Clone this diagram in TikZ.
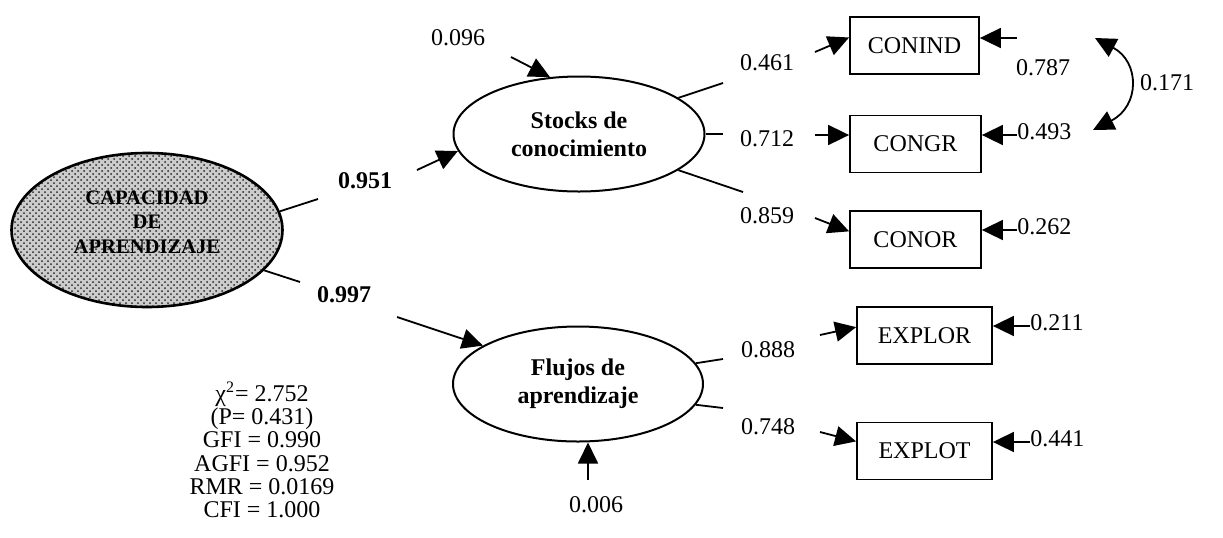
\documentclass[tikz,border=0pt]{standalone}
\usepackage{fontspec}
\setmainfont{Liberation Serif}
\usetikzlibrary{shapes.geometric,arrows.meta,patterns}
\begin{document}
\begin{tikzpicture}[x=0.5pt,y=-0.5pt,
  lbl/.style={inner sep=0pt, font=\fontsize{12}{14}\selectfont},
  blbl/.style={inner sep=0pt, font=\fontsize{12}{14}\selectfont\bfseries},
  seg/.style={line width=0.9pt},
  arr/.style={line width=0.9pt, -{Triangle[length=10.5pt,width=10pt]}},
  dbl/.style={line width=0.9pt, {Triangle[length=10.5pt,width=10pt]}-{Triangle[length=10.5pt,width=10pt]}},
  latent/.style={ellipse, draw, line width=1pt, inner sep=0pt, align=center, font=\fontsize{12}{14}\selectfont\bfseries},
  obs/.style={rectangle, draw, line width=0.9pt, inner sep=0pt, minimum height=28.5pt, font=\fontsize{12}{14}\selectfont},
  captext/.style={inner sep=0pt, align=center, font=\fontsize{10.3}{12.3}\selectfont\bfseries}
]
\useasboundingbox (0,0) rectangle (1223,537);

% latent variables
\node[latent, minimum width=135.5pt, minimum height=77pt, line width=1.3pt,
      preaction={fill=gray!40}, pattern=crosshatch dots, pattern color=black!85] (cap) at (147,230) {};
\node[captext] (captxt) at (147,222) {CAPACIDAD\\DE\\APRENDIZAJE};
\node[latent, minimum width=125.5pt, minimum height=57.5pt] (stocks) at (579,134) {Stocks de\\conocimiento};
\node[latent, minimum width=125pt, minimum height=57.5pt] (flujos) at (578,384) {Flujos de\\aprendizaje};

% observed variables
\node[obs, minimum width=64.5pt] (conind) at (914.5,45.5) {CONIND};
\node[obs, minimum width=65.5pt] (congr) at (915.5,144) {CONGR};
\node[obs, minimum width=65.5pt] (conor) at (915.5,239.5) {CONOR};
\node[obs, minimum width=67.5pt] (explor) at (924.5,335.5) {EXPLOR};
\node[obs, minimum width=67.5pt] (explot) at (924.5,451) {EXPLOT};

% free ends
\coordinate (r1) at (511,57);
\coordinate (a1) at (318,199);  \coordinate (a2) at (417,170);
\coordinate (b1) at (300,282);  \coordinate (b2) at (397,317);
\coordinate (s1a) at (723,83);  \coordinate (s1b) at (815,52);
\coordinate (s2a) at (723,134); \coordinate (s2b) at (815,135);
\coordinate (s3a) at (743,192); \coordinate (s3b) at (815,218);
\coordinate (f1a) at (723,359); \coordinate (f1b) at (820,335);
\coordinate (f2a) at (723,408); \coordinate (f2b) at (820,432);
\coordinate (e1) at (1017,38);
\coordinate (e2) at (1017,135);
\coordinate (e3) at (1017,230);
\coordinate (e4) at (1030,326);
\coordinate (e5) at (1030,442);
\coordinate (r2) at (588,480);
\coordinate (cv1) at (1095,38);
\coordinate (cv2) at (1093,130);

% labels
\node[lbl] (l096) at (458,38) {0.096};
\node[blbl] (l951) at (365,181) {0.951};
\node[blbl] (l997) at (344,295) {0.997};
\node[lbl] (l461) at (767,63) {0.461};
\node[lbl] (l712) at (767,139) {0.712};
\node[lbl] (l859) at (767,216) {0.859};
\node[lbl] (l787) at (1043,68) {0.787};
\node[lbl, anchor=west, yshift=1.5pt] (l493) at (e2) {0.493};
\node[lbl, anchor=west, yshift=1.5pt] (l262) at (e3) {0.262};
\node[lbl, anchor=west, yshift=1.5pt] (l211) at (e4) {0.211};
\node[lbl, anchor=west, yshift=1.5pt] (l441) at (e5) {0.441};
\node[lbl] (l171) at (1167,83) {0.171};
\node[lbl] (l888) at (768,350) {0.888};
\node[lbl] (l748) at (768,427) {0.748};
\node[lbl] (l006) at (596,505) {0.006};
\node[lbl, align=center, font=\fontsize{12}{11.6}\selectfont] (fit) at (262,450)
  {χ\textsuperscript{2}= 2.752\\(P= 0.431)\\GFI = 0.990\\AGFI = 0.952\\RMR = 0.0169\\CFI = 1.000};

% connectors
\draw[arr] (r1) -- (stocks.117);
\draw[seg] (cap.8) -- (a1);
\draw[arr] (a2) -- (stocks.188);
\draw[seg] (cap.-19) -- (b1);
\draw[arr] (b2) -- (flujos.158);

\draw[seg] (stocks.20) -- (s1a);
\draw[arr] (s1b) -- (conind.173);
\draw[seg] (stocks.east) -- (s2a);
\draw[arr] (s2b) -- (s2b -| congr.west);
\draw[seg] (stocks.-20) -- (s3a);
\draw[arr] (s3b) -- (conor.173);

\draw[seg] (flujos.10) -- (f1a);
\draw[arr] (f1b) -- (explor.173);
\draw[seg] (flujos.-10) -- (f2a);
\draw[arr] (f2b) -- (explot.172);
\draw[arr] (r2) -- (r2 |- flujos.south);

\draw[arr] (e1) -- (e1 -| conind.east);
\draw[arr] (e2) -- (e2 -| congr.east);
\draw[arr] (e3) -- (e3 -| conor.east);
\draw[arr] (e4) -- (e4 -| explor.east);
\draw[arr] (e5) -- (e5 -| explot.east);

\draw[dbl] (cv1) .. controls (1140,62) and (1140,106) .. (cv2);
\end{tikzpicture}
\end{document}
